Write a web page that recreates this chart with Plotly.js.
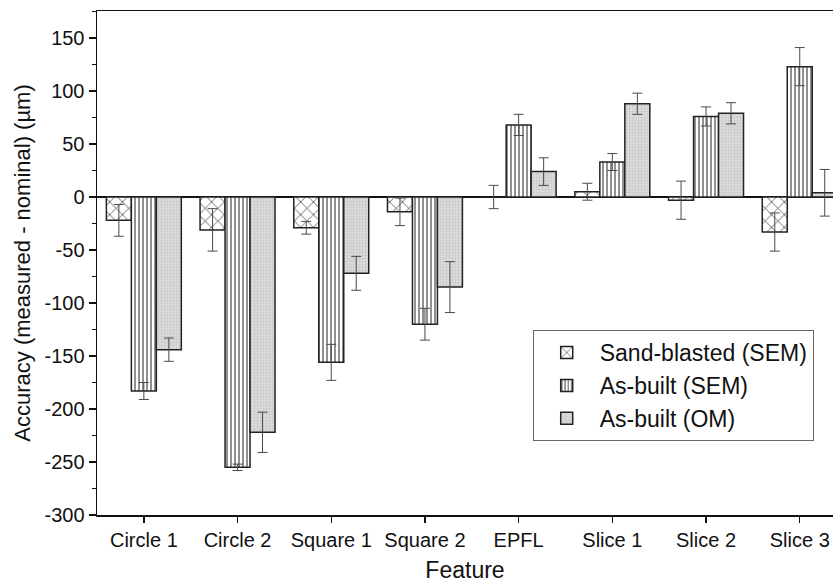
<!DOCTYPE html>
<html>
<head>
<meta charset="utf-8">
<script src="https://cdn.plot.ly/plotly-3.0.1.min.js"></script>
<style>html,body{margin:0;padding:0;background:#fff;}#chart{width:833px;height:588px;}</style>
</head>
<body>
<div id="chart"></div>
<script>
const categories = ["Circle 1", "Circle 2", "Square 1", "Square 2", "EPFL", "Slice 1", "Slice 2", "Slice 3"];
const seriesNames = ["Sand-blasted (SEM)", "As-built (SEM)", "As-built (OM)"];
const sandBlastedSEM = [-22, -31, -29, -14, 0, 5, -3, -33];
const sandBlastedSEMErr = [15, 20, 6, 13, 11, 8, 18, 18];
const asBuiltSEM = [-183, -255, -156, -120, 68, 33, 76, 123];
const asBuiltSEMErr = [8, 3, 17, 15, 10, 8, 9, 18];
const asBuiltOM = [-144, -222, -72, -85, 24, 88, 79, 4];
const asBuiltOMErr = [11, 19, 16, 24, 13, 10, 10, 22];
const yTicks = [-300, -250, -200, -150, -100, -50, 0, 50, 100, 150];

const font = "Arial, 'Liberation Sans', sans-serif";
const errStyle = {type: "data", visible: true, color: "#4a4a4a", thickness: 1, width: 5};
const outline = {color: "#222", width: 1.5};

const traces = [
  {type: "bar", name: seriesNames[0], x: categories, y: sandBlastedSEM,
   error_y: Object.assign({array: sandBlastedSEMErr}, errStyle),
   marker: {color: "#ffffff", line: outline,
            pattern: {shape: "x", fgcolor: "#222", bgcolor: "#ffffff", size: 9, solidity: 0.14}}},
  {type: "bar", name: seriesNames[1], x: categories, y: asBuiltSEM,
   error_y: Object.assign({array: asBuiltSEMErr}, errStyle),
   marker: {color: "#ffffff", line: outline,
            pattern: {shape: "|", fgcolor: "#222", bgcolor: "#ffffff", size: 4, solidity: 0.25}}},
  {type: "bar", name: seriesNames[2], x: categories, y: asBuiltOM,
   error_y: Object.assign({array: asBuiltOMErr}, errStyle),
   marker: {color: "#d9d9d9", line: outline,
            pattern: {shape: ".", fgcolor: "#c4c4c4", bgcolor: "#dcdcdc", size: 3, solidity: 0.3}}}
];

const layout = {
  width: 833, height: 588,
  margin: {l: 97, r: 0, t: 11, b: 73},
  paper_bgcolor: "#ffffff", plot_bgcolor: "#ffffff",
  font: {family: font, color: "#111", size: 20},
  barmode: "group", bargap: 0.2, bargroupgap: 0,
  showlegend: true,
  legend: {x: 0.592, y: 0.367, xanchor: "left", yanchor: "top",
           bordercolor: "#666", borderwidth: 1, bgcolor: "#ffffff",
           font: {family: font, size: 23, color: "#111"},
           tracegroupgap: 0, itemwidth: 56},
  xaxis: {
    type: "category", range: [-0.5, 7.355],
    showline: true, linecolor: "#111", linewidth: 1.5, mirror: true,
    ticks: "outside", ticklen: 6, tickwidth: 1.5, tickcolor: "#111",
    showgrid: false, zeroline: false,
    tickfont: {family: font, size: 20, color: "#111"},
    title: {text: "Feature", font: {family: font, size: 23, color: "#111"}, standoff: 12}
  },
  yaxis: {
    range: [-300, 175.5],
    tickmode: "array", tickvals: yTicks, ticktext: yTicks.map(String),
    showline: true, linecolor: "#111", linewidth: 1.5, mirror: false,
    ticks: "outside", ticklen: 7, tickwidth: 1.5, tickcolor: "#111",
    minor: {dtick: 25, tick0: 0, ticks: "outside", ticklen: 4, tickwidth: 1, tickcolor: "#111", showgrid: false},
    showgrid: false,
    zeroline: true, zerolinecolor: "#111", zerolinewidth: 1.5,
    tickfont: {family: font, size: 20, color: "#111"},
    title: {text: "Accuracy (measured - nominal) (µm)", font: {family: font, size: 22, color: "#111"}, standoff: 8}
  }
};

Plotly.newPlot("chart", traces, layout, {displayModeBar: false, staticPlot: true});
</script>
</body>
</html>
